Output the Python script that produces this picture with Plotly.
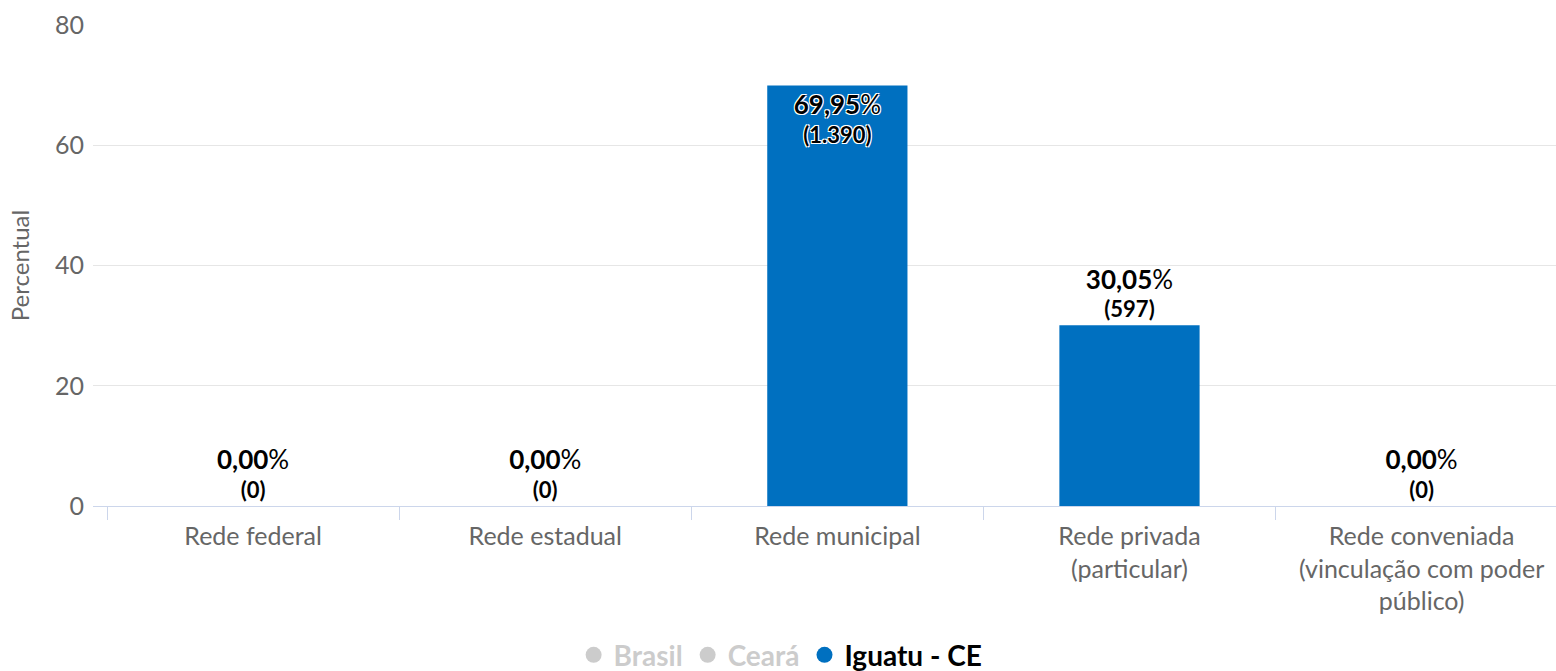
import plotly.graph_objects as go

categories = [
    "Rede federal",
    "Rede estadual",
    "Rede municipal",
    "Rede privada<br>(particular)",
    "Rede conveniada<br>(vinculação com poder<br>público)",
]
percentual = [0.00, 0.00, 69.95, 30.05, 0.00]
matriculas = [0, 0, 1390, 597, 0]
legend_names = ["Brasil", "Ceará", "Iguatu - CE"]

BLUE = "#0070c0"
FONT = "Lato"


def br_pct(v):
    return f"{v:.2f}".replace(".", ",")


def br_int(v):
    return f"{v:,}".replace(",", ".")


# base size of the bar text is the count line; the percentage is bumped up in a span
labels = [
    f"<span style='font-size:26px'><b>{br_pct(p)}</b>%</span><br><b>({br_int(n)})</b>"
    for p, n in zip(percentual, matriculas)
]
# municipal bar is tall enough to hold its label inside
positions = ["inside" if p > 50 else "outside" for p in percentual]

fig = go.Figure()

fig.add_trace(go.Bar(
    x=categories,
    y=percentual,
    marker_color=BLUE,
    marker_line_width=0,
    text=labels,
    textposition=positions,
    insidetextanchor="end",
    textfont=dict(family=FONT, size=22, color="#000000"),
    insidetextfont=dict(
        family=FONT, size=22, color="#000000",
        shadow="-1px -1px 0 #fff, 1px -1px 0 #fff, -1px 1px 0 #fff, 1px 1px 0 #fff",
    ),
    cliponaxis=False,
    showlegend=False,
    hoverinfo="skip",
))

# legend entries (Brasil and Ceará hidden, as in the original)
for name in legend_names:
    active = name == "Iguatu - CE"
    label = f"<b>{name}</b>" if active else f"<span style='color:#999999'><b>{name}</b></span>"
    fig.add_trace(go.Scatter(
        x=[None], y=[None],
        mode="markers",
        name=label,
        marker=dict(symbol="circle", size=20, color=BLUE if active else "#999999"),
        visible=True if active else "legendonly",
    ))

fig.update_layout(
    width=1556,
    height=671,
    template="plotly_white",
    plot_bgcolor="white",
    paper_bgcolor="white",
    font=dict(family=FONT, size=25, color="#666666"),
    margin=dict(l=93, r=0, t=25, b=165, autoexpand=False),
    bargap=0.52,
    showlegend=True,
    legend=dict(
        orientation="h",
        x=0.47, xanchor="center",
        y=-0.31, yanchor="middle",
        font=dict(family=FONT, size=28, color="#000000"),
        itemsizing="trace",
        itemwidth=30,
        tracegroupgap=0,
    ),
)

fig.update_xaxes(
    type="category",
    range=[-0.548, 4.46],
    automargin=False,
    showgrid=False,
    showline=True,
    linecolor="#ccd6eb",
    linewidth=1,
    tickson="boundaries",
    ticks="outside",
    ticklen=13,
    tickcolor="#ccd6eb",
    ticklabelstandoff=8,
    tickfont=dict(family=FONT, size=25, color="#666666"),
    zeroline=False,
)

fig.update_yaxes(
    range=[0, 80],
    tickvals=[0, 20, 40, 60, 80],
    automargin=False,
    gridcolor="#e6e6e6",
    gridwidth=1,
    zeroline=False,
    showline=False,
    ticks="",
    ticklabelstandoff=8,
    tickfont=dict(family=FONT, size=25, color="#666666"),
    title=dict(text="Percentual", font=dict(family=FONT, size=24, color="#666666"), standoff=18),
)

fig.write_html(
    "out.html",
    config={"displayModeBar": False},
    post_script="document.body.style.margin='0';",
)
